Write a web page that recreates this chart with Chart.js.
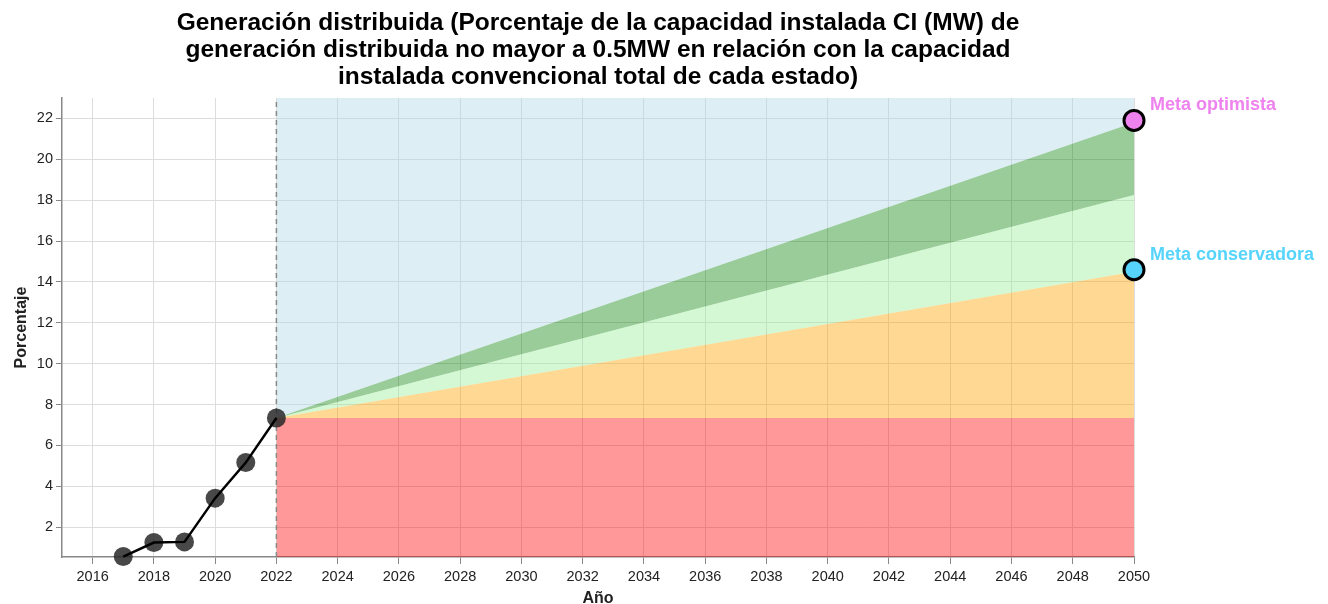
<!DOCTYPE html>
<html>
<head>
<meta charset="utf-8">
<script src="https://cdn.jsdelivr.net/npm/chart.js@4.4.1/dist/chart.umd.min.js"></script>
<style>
  html, body { margin: 0; padding: 0; background: #fff; }
  #wrap { width: 1328px; height: 604px; }
</style>
</head>
<body>
<div id="wrap"><canvas id="chart" width="1328" height="604"></canvas></div>
<script>
  // historic series (2017-2022)
  const historicYears = [2017, 2018, 2019, 2020, 2021, 2022];
  const historicValues = [0.56, 1.25, 1.28, 3.42, 5.16, 7.34];

  // scenario bands 2022 -> 2050
  const scenarioYears = [2022, 2050];
  const baseValues = [7.34, 7.34];
  const conservativeValues = [7.34, 14.5];
  const middleValues = [7.34, 18.25];
  const optimisticValues = [7.34, 21.8];
  const ceilingValues = [23, 23];

  // goals
  const goalYear = 2050;
  const goalOptimistic = 21.9;
  const goalConservative = 14.6;
  const goalLabels = ['Meta optimista', 'Meta conservadora'];

  const xTicks = [2016, 2018, 2020, 2022, 2024, 2026, 2028, 2030, 2032, 2034, 2036, 2038, 2040, 2042, 2044, 2046, 2048, 2050];
  const yTicks = [2, 4, 6, 8, 10, 12, 14, 16, 18, 20, 22];
  const yMin = 0.54, yMax = 23;

  const titleLines = [
    'Generación distribuida (Porcentaje de la capacidad instalada CI (MW) de',
    'generación distribuida no mayor a 0.5MW en relación con la capacidad',
    'instalada convencional total de cada estado)'
  ];

  const FONT = "'Liberation Sans', Arial, sans-serif";

  function pts(xs, ys) {
    return xs.map(function (x, i) { return { x: x, y: ys[i] }; });
  }

  const labelsPlugin = {
    id: 'labels',
    afterDraw: function (chart) {
      const ctx = chart.ctx;
      const area = chart.chartArea;
      ctx.save();
      ctx.fillStyle = '#000';
      ctx.font = 'bold 24.5px ' + FONT;
      ctx.textAlign = 'center';
      ctx.textBaseline = 'alphabetic';
      const cx = (area.left + area.right) / 2;
      titleLines.forEach(function (t, i) { ctx.fillText(t, cx, 30 + i * 27); });

      ctx.font = 'bold 18px ' + FONT;
      ctx.textAlign = 'left';
      ctx.textBaseline = 'middle';
      [[8, '#ee82ee', 0], [9, '#56d4fc', 1]].forEach(function (g) {
        const p = chart.getDatasetMeta(g[0]).data[0];
        ctx.fillStyle = g[1];
        ctx.fillText(goalLabels[g[2]], p.x + 16, p.y - 15);
      });
      ctx.restore();
    }
  };

  new Chart(document.getElementById('chart'), {
    type: 'line',
    data: {
      datasets: [
        { data: pts(scenarioYears, baseValues), fill: 'start', backgroundColor: 'rgba(255,0,0,0.4)', borderWidth: 0, pointRadius: 0, order: 10 },
        { data: pts(scenarioYears, conservativeValues), fill: '-1', backgroundColor: 'rgba(255,165,0,0.42)', borderWidth: 0, pointRadius: 0, order: 10 },
        { data: pts(scenarioYears, middleValues), fill: '-1', backgroundColor: 'rgba(144,238,144,0.4)', borderWidth: 0, pointRadius: 0, order: 10 },
        { data: pts(scenarioYears, optimisticValues), fill: '-1', backgroundColor: 'rgba(0,128,0,0.4)', borderWidth: 0, pointRadius: 0, order: 10 },
        { data: pts(scenarioYears, ceilingValues), fill: '-1', backgroundColor: 'rgba(173,216,230,0.42)', borderWidth: 0, pointRadius: 0, order: 10 },
        // 2022 divider
        { data: [{ x: 2022, y: yMin }, { x: 2022, y: yMax }], borderColor: '#888', borderWidth: 1.5, borderDash: [5, 4], pointRadius: 0, fill: false, order: 5 },
        // historic points and line
        { data: pts(historicYears, historicValues), showLine: false, pointRadius: 9.5, pointBackgroundColor: 'rgba(40,40,40,0.85)', pointBorderWidth: 0, clip: false, order: 3 },
        { data: pts(historicYears, historicValues), borderColor: '#000', borderWidth: 2.5, pointRadius: 0, fill: false, clip: false, order: 2 },
        // goals
        { data: [{ x: goalYear, y: goalOptimistic }], showLine: false, pointRadius: 10, pointBackgroundColor: '#ee82ee', pointBorderColor: '#000', pointBorderWidth: 3, clip: false, order: 1 },
        { data: [{ x: goalYear, y: goalConservative }], showLine: false, pointRadius: 10, pointBackgroundColor: '#56d4fc', pointBorderColor: '#000', pointBorderWidth: 3, clip: false, order: 1 }
      ]
    },
    options: {
      responsive: false,
      animation: false,
      layout: { padding: { left: 8, right: 194, top: 98, bottom: 0 } },
      plugins: { legend: { display: false }, tooltip: { enabled: false } },
      scales: {
        x: {
          type: 'linear', min: 2015, max: 2050,
          afterBuildTicks: function (s) { s.ticks = xTicks.map(function (v) { return { value: v }; }); },
          afterFit: function (s) { s.height = 47; },
          grid: { color: '#ddd', tickLength: 7, tickColor: '#888' },
          border: { color: '#888', width: 1.5 },
          ticks: { font: { size: 14.5, family: FONT }, color: '#222', padding: 4, maxRotation: 0, autoSkip: false, callback: function (v) { return String(v); } },
          title: { display: true, text: 'Año', font: { size: 16, weight: 'bold', family: FONT }, color: '#222', padding: { top: 0, bottom: -4 } }
        },
        y: {
          type: 'linear', min: yMin, max: yMax,
          afterBuildTicks: function (s) { s.ticks = yTicks.map(function (v) { return { value: v }; }); },
          afterFit: function (s) { s.width = 54; },
          grid: { color: '#ddd', tickLength: 6, tickColor: '#888' },
          border: { color: '#888', width: 1.5 },
          ticks: { font: { size: 14.5, family: FONT }, color: '#222', padding: 3, callback: function (v) { return String(v); } },
          title: { display: true, text: 'Porcentaje', font: { size: 16, weight: 'bold', family: FONT }, color: '#222', padding: { top: 4, bottom: 0 } }
        }
      }
    },
    plugins: [labelsPlugin]
  });
</script>
</body>
</html>
